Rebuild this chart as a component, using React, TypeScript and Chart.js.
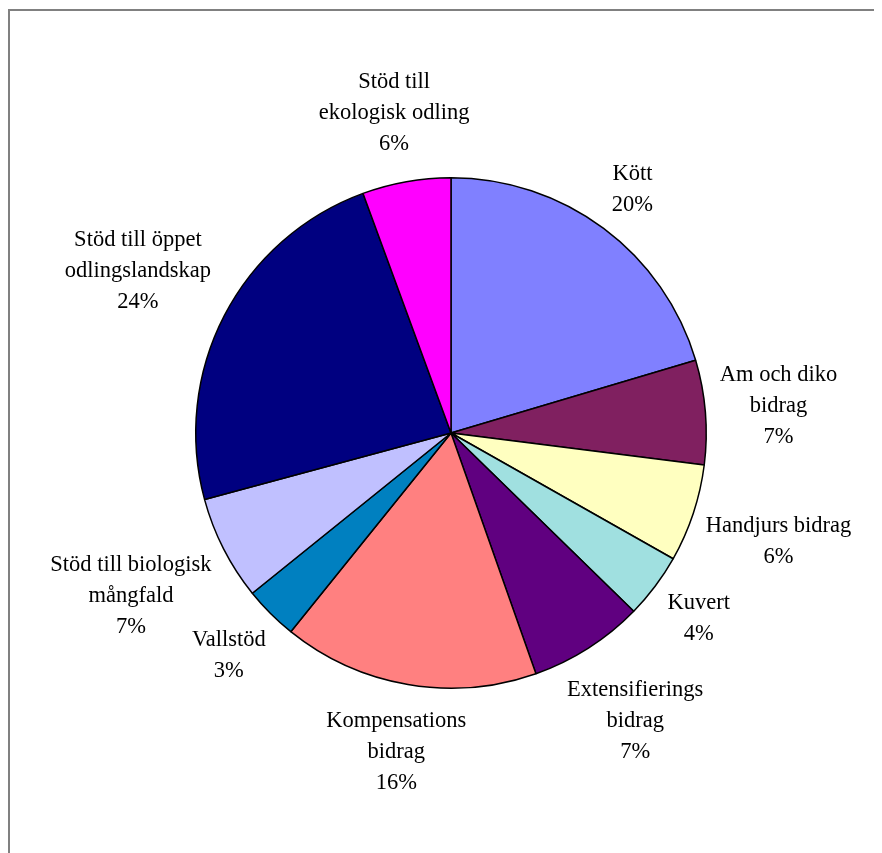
import React, { useEffect, useRef } from "react";
import { Chart, registerables } from "chart.js";

Chart.register(...registerables);

const categories: string[][] = [
  ["Kött"],
  ["Am och diko", "bidrag"],
  ["Handjurs bidrag"],
  ["Kuvert"],
  ["Extensifierings", "bidrag"],
  ["Kompensations", "bidrag"],
  ["Vallstöd"],
  ["Stöd till biologisk", "mångfald"],
  ["Stöd till öppet", "odlingslandskap"],
  ["Stöd till", "ekologisk odling"],
];

const values: number[] = [20.4, 6.6, 6.2, 4.1, 7.3, 16.2, 3.4, 6.6, 23.6, 5.6];

const colors: string[] = [
  "#8080FF",
  "#802060",
  "#FFFFC0",
  "#A0E0E0",
  "#600080",
  "#FF8080",
  "#0080C0",
  "#C0C0FF",
  "#000080",
  "#FF00FF",
];

const FONT = '22.5px "Liberation Serif", "Times New Roman", serif';
const LINE_H = 31;
const GAP = 11;

const labelPlugin = {
  id: "outsideLabels",
  afterDatasetsDraw(chart: any) {
    const ctx = chart.ctx;
    const meta = chart.getDatasetMeta(0);
    const total = values.reduce((a, b) => a + b, 0);
    ctx.save();
    ctx.font = FONT;
    ctx.fillStyle = "#000";
    ctx.textAlign = "center";
    ctx.textBaseline = "middle";
    meta.data.forEach((arc: any, i: number) => {
      const lines = [...categories[i], Math.round((values[i] / total) * 100) + "%"];
      const w = Math.max(...lines.map((l) => ctx.measureText(l).width));
      const h = lines.length * LINE_H;
      const mid = (arc.startAngle + arc.endAngle) / 2;
      const c = Math.cos(mid);
      const s = Math.sin(mid);
      const D = arc.outerRadius + GAP + Math.abs(c) * w / 2 + Math.abs(s) * h / 2;
      const x = arc.x + D * c;
      const y = arc.y + D * s;
      lines.forEach((l, k) => {
        ctx.fillText(l, x, y + (k - (lines.length - 1) / 2) * LINE_H);
      });
    });
    ctx.restore();
  },
};

const borderPlugin = {
  id: "frameBorder",
  beforeDraw(chart: any) {
    const ctx = chart.ctx;
    ctx.save();
    ctx.fillStyle = "#fff";
    ctx.fillRect(0, 0, chart.width, chart.height);
    ctx.strokeStyle = "#808080";
    ctx.lineWidth = 2;
    ctx.beginPath();
    ctx.moveTo(1, chart.height);
    ctx.lineTo(1, 2);
    ctx.lineTo(chart.width, 2);
    ctx.stroke();
    ctx.restore();
  },
};

export default function App() {
  const ref = useRef<HTMLCanvasElement>(null);
  useEffect(() => {
    document.documentElement.style.overflow = "hidden";
    const chart = new Chart(ref.current!, {
      type: "pie",
      data: {
        labels: categories,
        datasets: [
          {
            data: values,
            backgroundColor: colors,
            borderColor: "#000",
            borderWidth: 1.5,
            hoverOffset: 0,
          },
        ],
      },
      options: {
        responsive: false,
        animation: false,
        layout: { padding: { left: 187, right: 175, top: 169, bottom: 164 } },
        plugins: {
          legend: { display: false },
          tooltip: { enabled: false },
        },
      },
      plugins: [borderPlugin, labelPlugin],
    });
    return () => chart.destroy();
  }, []);
  return (
    <canvas
      ref={ref}
      width={874}
      height={845}
      style={{ display: "block", width: 874, height: 845 }}
    />
  );
}
